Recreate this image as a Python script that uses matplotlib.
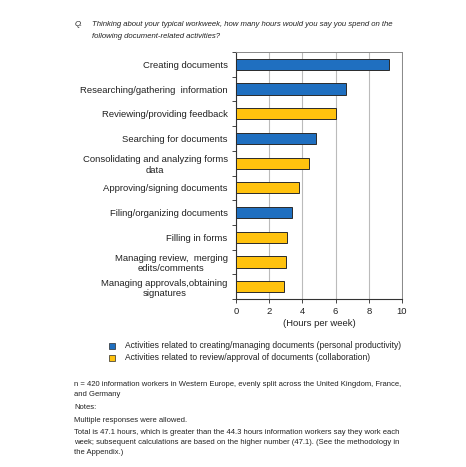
import matplotlib
matplotlib.use("Agg")
import matplotlib.pyplot as plt
from matplotlib.patches import Rectangle

categories = [
    "Creating documents",
    "Researching/gathering  information",
    "Reviewing/providing feedback",
    "Searching for documents",
    "Consolidating and analyzing forms\ndata",
    "Approving/signing documents",
    "Filing/organizing documents",
    "Filling in forms",
    "Managing review,  merging\nedits/comments",
    "Managing approvals,obtaining\nsignatures",
]
values = [9.2, 6.6, 6.0, 4.8, 4.4, 3.8, 3.4, 3.1, 3.0, 2.9]
groups = [0, 0, 1, 0, 1, 1, 0, 1, 1, 1]
group_labels = [
    "Activities related to creating/managing documents (personal productivity)",
    "Activities related to review/approval of documents (collaboration)",
]
xticks = [0, 2, 4, 6, 8, 10]

colors = ["#1f6fc0", "#ffc20e"]
edge = "#2a2a2a"
font = ["Liberation Sans", "DejaVu Sans"]
plt.rcParams["font.family"] = font

W, H = 466, 467
fig = plt.figure(figsize=(W / 100, H / 100), dpi=100)
ax = fig.add_axes([236 / W, 1 - 299 / H, (402 - 236) / W, (299 - 52) / H])

ypos = list(range(len(categories)))
ax.barh(ypos, values, height=0.45, color=[colors[g] for g in groups],
        edgecolor=edge, linewidth=0.7, zorder=3)
ax.set_ylim(len(categories) - 0.5, -0.5)
ax.set_xlim(0, 10)
ax.set_xticks(xticks)
ax.set_xticklabels([str(t) for t in xticks], fontsize=6.8, color="#222222")
ax.set_yticks(ypos)
ax.set_yticklabels(categories, fontsize=6.8, color="#222222", linespacing=1.2,
                   multialignment="center")
ax.tick_params(axis="y", length=0, pad=6)
ax.set_yticks([i + 0.5 for i in range(-1, len(categories))], minor=True)
ax.tick_params(axis="y", which="minor", length=3, width=0.7, color="#444444")
ax.tick_params(axis="x", length=3, width=0.7, color="#444444", pad=3)
ax.grid(axis="x", color="#bbbbbb", linewidth=0.8, zorder=0)
for s in ["top", "right"]:
    ax.spines[s].set_color("#888888")
    ax.spines[s].set_linewidth(0.7)
for s in ["left", "bottom"]:
    ax.spines[s].set_color("#333333")
    ax.spines[s].set_linewidth(0.8)
ax.set_xlabel("(Hours per week)", fontsize=6.8, color="#222222", labelpad=2)

# Question
fig.text(75 / W, 1 - 25 / H, "Q.", fontsize=5.6, style="italic", va="center", color="#222222")
fig.text(92 / W, 1 - 25 / H,
         "Thinking about your typical workweek, how many hours would you say you spend on the",
         fontsize=5.6, style="italic", va="center", color="#222222")
fig.text(92 / W, 1 - 36 / H, "following document-related activities?",
         fontsize=5.6, style="italic", va="center", color="#222222")

# Legend
for i, lab in enumerate(group_labels):
    y = 346 + i * 12
    fig.patches.append(Rectangle((109 / W, 1 - (y + 3) / H), 6 / W, 6 / H,
                                 transform=fig.transFigure, facecolor=colors[i],
                                 edgecolor=edge, linewidth=0.5))
    fig.text(125 / W, 1 - y / H, lab, fontsize=6.15, va="center", color="#222222")

# Footnotes
notes = [
    (385, "n = 420 information workers in Western Europe, evenly split across the United Kingdom, France,"),
    (395, "and Germany"),
    (407.5, "Notes:"),
    (420, "Multiple responses were allowed."),
    (432.5, "Total is 47.1 hours, which is greater than the 44.3 hours information workers say they work each"),
    (443, "week; subsequent calculations are based on the higher number (47.1). (See the methodology in"),
    (453, "the Appendix.)"),
]
for y, t in notes:
    fig.text(74 / W, 1 - y / H, t, fontsize=5.5, va="center", color="#222222")

fig.savefig("out.png", dpi=100, facecolor="white")
